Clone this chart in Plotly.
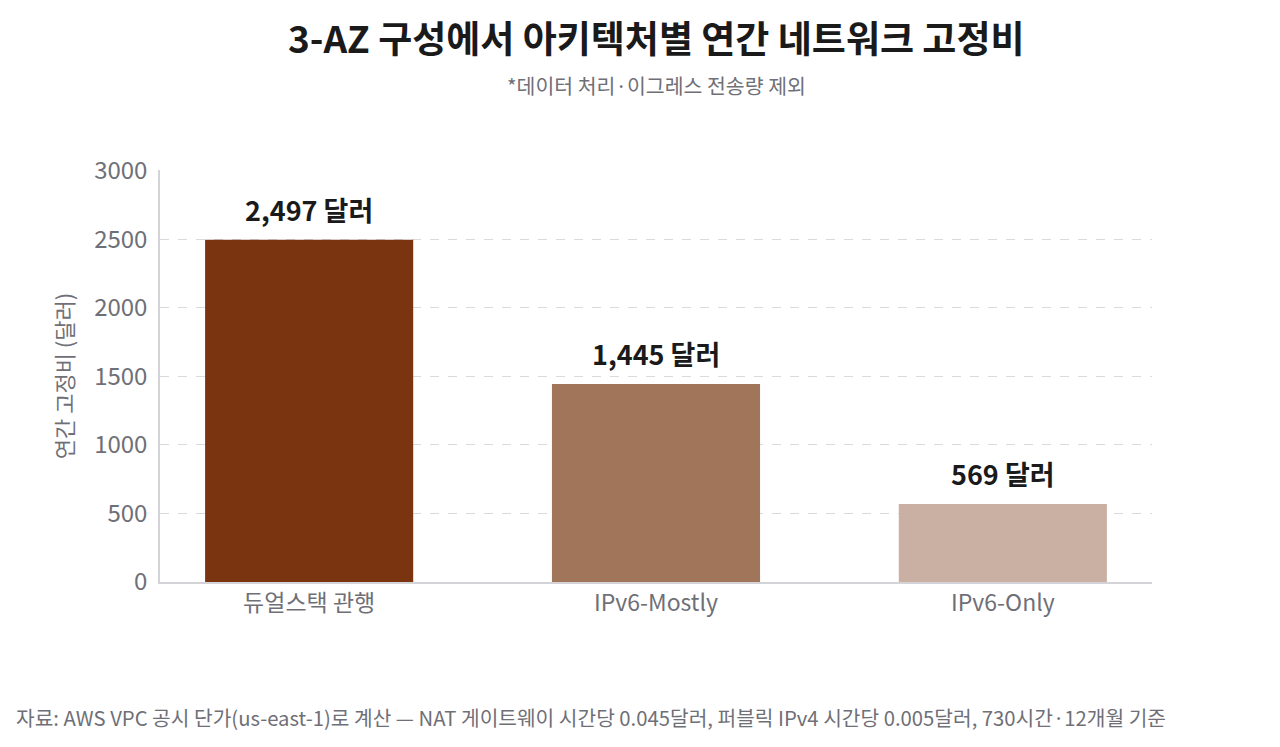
import plotly.graph_objects as go

FONT = "Noto Sans CJK KR"

architectures = ["듀얼스택 관행", "IPv6-Mostly", "IPv6-Only"]
annual_cost = [2497, 1445, 569]
bar_colors = ["#7a3510", "#a0755a", "#cab0a3"]
y_ticks = [0, 500, 1000, 1500, 2000, 2500, 3000]

title_text = "3-AZ 구성에서 아키텍처별 연간 네트워크 고정비"
subtitle_text = "*데이터 처리·이그레스 전송량 제외"
source_text = ("자료: AWS VPC 공시 단가(us-east-1)로 계산 — NAT 게이트웨이 시간당 0.045달러, "
               "퍼블릭 IPv4 시간당 0.005달러, 730시간·12개월 기준")

fig = go.Figure()
fig.add_bar(
    x=architectures,
    y=annual_cost,
    width=0.6,
    marker=dict(color=bar_colors, line=dict(width=0)),
    hoverinfo="skip",
)

# value labels above the bars
for cat, val in zip(architectures, annual_cost):
    fig.add_annotation(
        x=cat, y=val, text=f"<b>{val:,} 달러</b>",
        xanchor="center", yanchor="bottom", yshift=9, showarrow=False,
        font=dict(family=FONT, size=27, color="#1a1a1a"),
    )

fig.update_layout(
    width=1280,
    height=747,
    paper_bgcolor="white",
    plot_bgcolor="white",
    margin=dict(l=152, r=136, t=162, b=173),
    showlegend=False,
    font=dict(family=FONT, color="#6f6f77"),
    xaxis=dict(
        range=[-0.43, 2.43],
        showline=True,
        linecolor="#d4d4d8",
        linewidth=1.5,
        ticks="",
        tickfont=dict(size=23, color="#6f6f77"),
        showgrid=False,
    ),
    yaxis=dict(
        range=[0, 3005],
        tickvals=y_ticks,
        showline=True,
        linecolor="#d4d4d8",
        linewidth=1.5,
        ticks="",
        ticklabelstandoff=6,
        tickfont=dict(size=24, color="#6f6f77"),
        gridcolor="#d9d9de",
        griddash="dash",
        gridwidth=1,
        zeroline=False,
        title=dict(text="연간 고정비 (달러)", font=dict(size=22, color="#6f6f77"), standoff=14),
    ),
)

fig.add_annotation(
    text=f"<b>{title_text}</b>", xref="paper", yref="paper", x=0.5, y=1,
    xanchor="center", yanchor="middle", yshift=133,
    font=dict(family=FONT, size=37, color="#1a1a1a"), showarrow=False,
)
fig.add_annotation(
    text=subtitle_text, xref="paper", yref="paper", x=0.5, y=1,
    xanchor="center", yanchor="middle", yshift=85,
    font=dict(family=FONT, size=20.5, color="#6f6f77"), showarrow=False,
)
fig.add_annotation(
    text=source_text, xref="paper", yref="paper", x=0, y=0,
    xanchor="left", yanchor="middle", xshift=-146, yshift=-135,
    font=dict(family=FONT, size=20.3, color="#6f6f77"), showarrow=False,
)

fig.write_html("out.html")
